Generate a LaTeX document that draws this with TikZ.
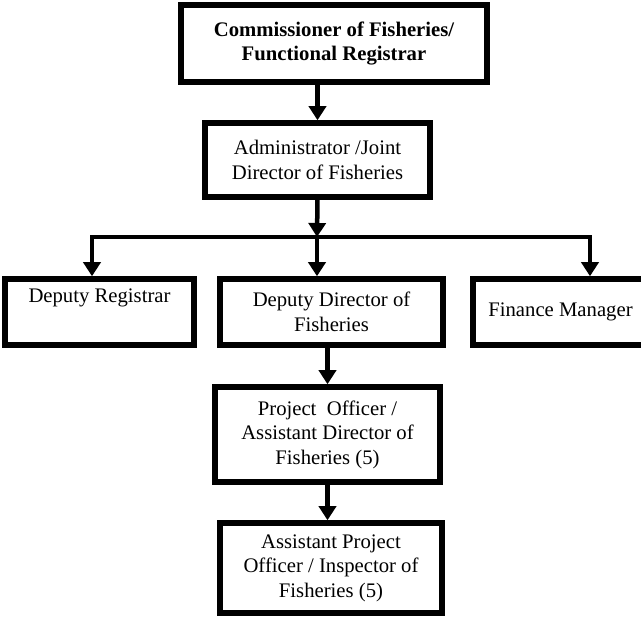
\documentclass[tikz,border=0pt]{standalone}
\usepackage{fontspec}
\setmainfont{Liberation Serif}
\usepackage{tikz}
\usetikzlibrary{arrows.meta}
\usetikzlibrary{calc}

\begin{document}
\begin{tikzpicture}[x=1pt,y=-1pt,
    box/.style={draw=black,line width=5.5pt,align=center,inner sep=0pt,
      font=\fontsize{20.7}{24.5}\selectfont},
    conn/.style={line width=4.5pt,line cap=rect},
    arr/.style={line width=4.5pt,-{Triangle[width=17pt,length=14pt]}}]
            \useasboundingbox (0,0) rectangle (641,617);

            \node[box,minimum width=306pt,minimum height=77pt,
              font=\fontsize{20.7}{24.5}\selectfont\bfseries] (comm) at (334,43.5)
              {Commissioner of Fisheries/\\Functional Registrar};
            \node[box,minimum width=225pt,minimum height=74pt] (admin) at (317.5,160)
              {Administrator /Joint\\Director of Fisheries};
            \node[box,minimum width=189pt,minimum height=66pt] (dreg) at (99.5,312)
              {Deputy Registrar\\\strut};
            \node[box,minimum width=223pt,minimum height=66pt] (ddir) at (331.5,312)
              {Deputy Director of\\Fisheries};
            \node[box,minimum width=175pt,minimum height=66pt] (fin) at (560.5,312)
              {Finance Manager};
            \node[box,minimum width=225pt,minimum height=95pt] (po) at (327.5,434.5)
              {Project\ \ Officer /\\Assistant Director of\\Fisheries (5)};
            \node[box,minimum width=222pt,minimum height=90pt] (apo) at (331,568)
              {Assistant Project\\Officer / Inspector of\\Fisheries (5)};

            \coordinate (s) at (317,237);
            \coordinate (l) at (92,237);
            \coordinate (r) at (590,237);

            \draw[arr](comm.south -| admin)--(admin.north);
            \draw[arr](admin.south)--(s);
            \draw[conn](l)--(r);
            \draw[arr](l)--(dreg.north -| l);
            \draw[arr](s)--(ddir.north -| s);
            \draw[arr](r)--(fin.north -| r);
            \draw[arr](ddir.south -| po)--(po.north);
            \draw[arr](po.south)--(po.south |- apo.north);

        \end{tikzpicture}
\end{document}
